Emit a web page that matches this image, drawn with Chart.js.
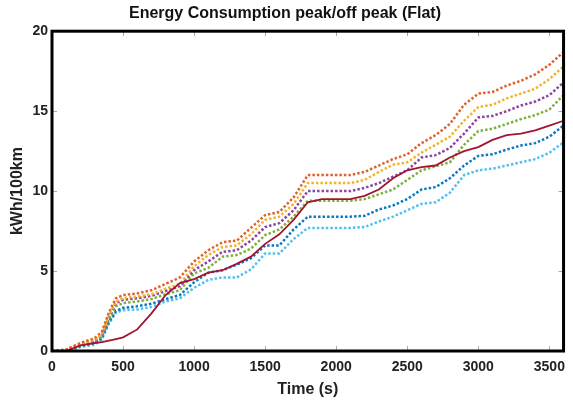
<!DOCTYPE html>
<html><head><meta charset="utf-8">
<script src="https://cdn.jsdelivr.net/npm/chart.js@4/dist/chart.umd.min.js"></script>
<style>html,body{margin:0;padding:0;background:#fff;}</style>
</head><body>
<canvas id="c" width="573" height="405"></canvas>
<script>
// ---- data ----
const times = [0,100,200,300,350,400,450,500,600,700,800,900,1000,1100,1200,1300,1400,1500,1600,1700,1800,1900,2000,2100,2200,2300,2400,2500,2600,2700,2800,2900,3000,3100,3200,3300,3400,3500,3600];
const solidRed   = [0,0.0,0.35,0.5,0.55,0.65,0.75,0.85,1.35,2.35,3.5,4.25,4.5,4.9,5.05,5.45,5.9,6.7,7.3,8.2,9.3,9.5,9.5,9.5,9.7,10.1,10.8,11.3,11.5,11.6,12.1,12.5,12.75,13.2,13.5,13.6,13.8,14.1,14.4];
const orangeRed  = [0,0.1,0.5,0.8,1.2,2.4,3.3,3.5,3.6,3.8,4.2,4.6,5.6,6.3,6.8,6.9,7.7,8.5,8.7,9.6,11.0,11.0,11.0,11.0,11.2,11.6,12.0,12.3,13.0,13.5,14.2,15.4,16.1,16.2,16.6,16.9,17.3,17.9,18.7];
const yellow     = [0,0.05,0.45,0.7,1.0,2.2,3.1,3.3,3.4,3.55,3.9,4.2,5.3,6.0,6.5,6.6,7.3,8.2,8.4,9.2,10.5,10.5,10.5,10.5,10.7,11.2,11.65,11.8,12.4,12.9,13.4,14.4,15.25,15.4,15.8,16.1,16.4,17.0,17.8];
const purple     = [0,0.05,0.4,0.65,0.95,2.1,3.0,3.2,3.3,3.45,3.75,4.05,5.05,5.6,6.2,6.3,6.9,7.75,8.0,8.8,10.0,10.0,10.0,10.0,10.2,10.5,10.9,11.3,12.1,12.25,12.7,13.6,14.6,14.7,15.0,15.35,15.6,16.0,16.8];
const green      = [0,0.05,0.35,0.6,0.9,2.0,2.8,3.0,3.1,3.25,3.55,3.8,4.85,5.2,5.9,6.0,6.4,7.25,7.6,8.4,9.4,9.4,9.4,9.4,9.5,9.8,10.1,10.7,11.3,11.55,11.8,12.9,13.75,13.9,14.2,14.5,14.75,15.1,16.0];
const blue       = [0,0.0,0.3,0.5,0.8,1.8,2.5,2.7,2.8,2.95,3.25,3.5,4.3,4.9,5.05,5.4,5.8,6.6,6.6,7.6,8.4,8.4,8.4,8.4,8.45,8.85,9.1,9.5,10.1,10.25,10.8,11.6,12.2,12.3,12.6,12.85,13.0,13.4,14.1];
const lightBlue  = [0,0.0,0.25,0.4,0.7,1.7,2.4,2.55,2.6,2.75,3.1,3.3,3.95,4.45,4.6,4.6,5.1,6.1,6.1,7.0,7.7,7.7,7.7,7.7,7.75,8.1,8.4,8.8,9.2,9.3,9.9,11.0,11.3,11.4,11.6,11.8,12.0,12.4,13.05];
const xTicks = [0,500,1000,1500,2000,2500,3000,3500];
const yTicks = [0,5,10,15,20];

const FONT = '"Liberation Sans", Arial, Helvetica, sans-serif';
const pts = arr => arr.map((v,i)=>({x:times[i], y:v}));
const dotted = (label, data, color) => ({label, data: pts(data), borderColor: color, borderWidth: 2.5, borderDash:[2.5,2], borderCapStyle:'butt', pointRadius:0, fill:false, tension:0});

const frame = {
  id:'frame',
  afterDatasetsDraw(chart){
    const {ctx, chartArea:a, scales} = chart;
    ctx.save();
    ctx.strokeStyle = '#aaaaaa'; ctx.lineWidth = 1;
    ctx.beginPath();
    xTicks.forEach(t=>{ const px = Math.round(scales.x.getPixelForValue(t))+0.5;
      ctx.moveTo(px,a.bottom); ctx.lineTo(px,a.bottom-5);
      ctx.moveTo(px,a.top); ctx.lineTo(px,a.top+5); });
    yTicks.forEach(t=>{ const py = Math.round(scales.y.getPixelForValue(t))+0.5;
      ctx.moveTo(a.left,py); ctx.lineTo(a.left+5,py);
      ctx.moveTo(a.right,py); ctx.lineTo(a.right-5,py); });
    ctx.stroke();
    ctx.strokeStyle = '#000'; ctx.lineWidth = 3;
    ctx.strokeRect(a.left, a.top, a.right-a.left, a.bottom-a.top);
    ctx.restore();
  }
};

new Chart(document.getElementById('c'), {
  type:'line',
  data:{ datasets:[
    {label:'solid', data: pts(solidRed), borderColor:'#A2142F', borderWidth:1.8, pointRadius:0, fill:false, tension:0},
    dotted('s1', orangeRed, '#E0622E'),
    dotted('s2', yellow, '#F0B52A'),
    dotted('s3', purple, '#8E44A0'),
    dotted('s4', green, '#7DB23A'),
    dotted('s5', blue, '#0A78C2'),
    dotted('s6', lightBlue, '#55C0EE')
  ]},
  options:{
    responsive:false, animation:false,
    layout:{padding:{left:0,right:3,top:0,bottom:0}},
    plugins:{
      legend:{display:false}, tooltip:{enabled:false},
      title:{display:true, text:'Energy Consumption peak/off peak (Flat)', color:'#111', font:{family:FONT, size:16, weight:'bold'}, padding:{top:4,bottom:8}}
    },
    scales:{
      x:{type:'linear', min:0, max:3600,
        afterBuildTicks: s => { s.ticks = xTicks.map(v=>({value:v})); },
        afterFit: s => { s.height = 54; },
        grid:{display:true, drawOnChartArea:false, drawTicks:false},
        border:{display:false},
        ticks:{color:'#222', padding:8, maxRotation:0, autoSkip:false, callback: v => String(v), font:{family:FONT, size:14, weight:'bold'}},
        title:{display:true, text:'Time (s)', color:'#222', font:{family:FONT, size:16, weight:'bold'}, padding:{top:0,bottom:6}}
      },
      y:{type:'linear', min:0, max:20,
        afterBuildTicks: s => { s.ticks = yTicks.map(v=>({value:v})); },
        afterFit: s => { s.width = 52; },
        grid:{display:true, drawOnChartArea:false, drawTicks:false},
        border:{display:false},
        ticks:{color:'#222', padding:4, autoSkip:false, callback: v => String(v), font:{family:FONT, size:14, weight:'bold'}},
        title:{display:true, text:'kWh/100km', color:'#222', font:{family:FONT, size:16, weight:'bold'}, padding:{top:8,bottom:0}}
      }
    }
  },
  plugins:[frame]
});
</script>
</body></html>
